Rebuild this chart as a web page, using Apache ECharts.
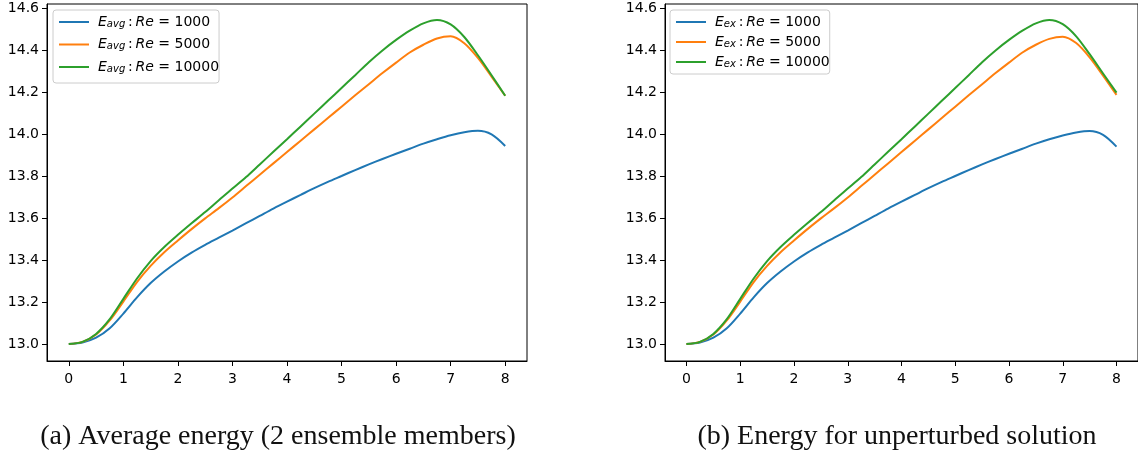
<!DOCTYPE html>
<html>
<head>
<meta charset="utf-8">
<script src="https://cdn.jsdelivr.net/npm/echarts@6/dist/echarts.min.js"></script>
<style>html,body{margin:0;padding:0;background:#fff;}#c{width:1138px;height:458px;}</style>
</head>
<body>
<div id="c"></div>
<script>
// ---- data ----
const tValues = [0,0.25,0.5,0.75,1,1.25,1.5,1.75,2,2.25,2.5,2.75,3,3.25,3.5,3.75,4,4.25,4.5,4.75,5,5.25,5.5,5.75,6,6.25,6.5,6.75,7,7.25,7.5,7.75,8];
const reLabels = ['1000','5000','10000'];
const xTicks = [0,1,2,3,4,5,6,7,8];
const yTicks = [13.0,13.2,13.4,13.6,13.8,14.0,14.2,14.4,14.6];

// (a) average energy
const avgRe1000  = [13.000,13.007,13.030,13.075,13.145,13.222,13.290,13.345,13.393,13.435,13.472,13.506,13.540,13.575,13.610,13.645,13.678,13.710,13.742,13.772,13.800,13.828,13.855,13.881,13.906,13.930,13.954,13.975,13.994,14.008,14.015,13.998,13.943];
const avgRe5000  = [13.000,13.010,13.045,13.112,13.202,13.295,13.372,13.437,13.493,13.547,13.598,13.647,13.698,13.752,13.806,13.860,13.914,13.968,14.022,14.076,14.130,14.184,14.237,14.290,14.340,14.388,14.425,14.455,14.465,14.432,14.362,14.273,14.182];
const avgRe10000 = [13.000,13.010,13.048,13.118,13.215,13.312,13.395,13.462,13.520,13.575,13.628,13.685,13.740,13.795,13.855,13.915,13.975,14.036,14.097,14.158,14.219,14.280,14.342,14.398,14.448,14.492,14.527,14.543,14.522,14.462,14.375,14.280,14.182];

// (b) unperturbed solution
const exRe1000  = [13.000,13.007,13.030,13.075,13.145,13.222,13.290,13.345,13.393,13.435,13.472,13.506,13.540,13.575,13.610,13.645,13.678,13.710,13.742,13.772,13.800,13.828,13.855,13.881,13.906,13.930,13.954,13.975,13.993,14.007,14.014,13.996,13.940];
const exRe5000  = [13.000,13.010,13.045,13.112,13.202,13.295,13.372,13.437,13.493,13.547,13.598,13.647,13.698,13.752,13.806,13.860,13.914,13.968,14.022,14.076,14.130,14.184,14.237,14.290,14.340,14.388,14.425,14.453,14.463,14.433,14.365,14.278,14.186];
const exRe10000 = [13.000,13.010,13.048,13.118,13.215,13.312,13.395,13.462,13.520,13.575,13.628,13.685,13.740,13.795,13.855,13.915,13.975,14.036,14.097,14.158,14.219,14.280,14.342,14.398,14.448,14.492,14.527,14.543,14.523,14.465,14.380,14.288,14.197];

const captionA = '(a) Average energy (2 ensemble members)';
const captionB = '(b) Energy for unperturbed solution';

// ---- chart ----
const colors = ['#1f77b4','#ff7f0e','#2ca02c'];
const pairs = vals => tValues.map((t,i)=>[t, vals[i]]);

const chart = echarts.init(document.getElementById('c'), null, {renderer:'canvas'});

const tickFont = {fontFamily:'DejaVu Sans', fontSize:14, color:'#000'};

function xAxisFor(gi){
  return {
    type:'value', gridIndex:gi, min:-0.4, max:8.4,
    axisLine:{show:true, onZero:false, lineStyle:{color:'#000', width:1}},
    axisTick:{show:true, inside:false, length:5, lineStyle:{color:'#000'}, customValues:xTicks},
    axisLabel:Object.assign({margin:11, customValues:xTicks, formatter:v=>String(v)}, tickFont),
    splitLine:{show:false}
  };
}
function yAxisFor(gi){
  return {
    type:'value', gridIndex:gi, min:12.919, max:14.619,
    axisLine:{show:true, onZero:false, lineStyle:{color:'#000', width:1}},
    axisTick:{show:true, inside:false, length:5, lineStyle:{color:'#000'}, customValues:yTicks},
    axisLabel:Object.assign({margin:8, customValues:yTicks, formatter:v=>v.toFixed(1)}, tickFont),
    splitLine:{show:false}
  };
}

function legendName(sub, re){ return 'E_' + sub + ' : Re = ' + re; }
const richStyles = {
  e:{fontFamily:'DejaVu Sans', fontStyle:'italic', fontSize:14, lineHeight:14, color:'#000'},
  s:{fontFamily:'DejaVu Sans', fontStyle:'italic', fontSize:10, lineHeight:7, verticalAlign:'bottom', color:'#000'},
  c:{fontFamily:'DejaVu Sans', fontSize:14, lineHeight:14, color:'#000'}
};
function legendFormatter(name){
  const m = name.match(/^E_(\w+) : Re = (\d+)$/);
  return '{e|E}{s|' + m[1] + '}{c|\u2009:\u2009}{e|Re}{c| = ' + m[2] + '}';
}
function legendFor(left, sub, gap, pad){
  return {
    orient:'vertical', left:left, top:10,
    data: reLabels.map(r=>legendName(sub,r)),
    itemWidth:30, itemHeight:14, itemGap:gap,
    padding:pad,
    itemStyle:{opacity:0, borderWidth:0},
    backgroundColor:'rgba(255,255,255,0.8)', borderColor:'#cccccc', borderWidth:1, borderRadius:3,
    formatter:legendFormatter,
    textStyle:{rich:richStyles, padding:[0,0,0,4]}
  };
}

function lineSeries(name, vals, ci, gi){
  return {
    type:'line', name:name, xAxisIndex:gi, yAxisIndex:gi,
    data:pairs(vals), symbol:'none', smooth:0.3,
    lineStyle:{color:colors[ci], width:2}, itemStyle:{color:colors[ci]},
    z: 2+ci
  };
}

const option = {
  animation:false,
  backgroundColor:'#fff',
  grid:[
    {left:47, top:4, width:480, height:357, show:true, borderColor:'#000', borderWidth:1, backgroundColor:'transparent'},
    {left:665, top:4, width:480, height:357, show:true, borderColor:'#000', borderWidth:1, backgroundColor:'transparent'}
  ],
  xAxis:[xAxisFor(0), xAxisFor(1)],
  yAxis:[yAxisFor(0), yAxisFor(1)],
  legend:[legendFor(53,'avg',8.5,[5,0,9,5]), legendFor(670,'ex',6,[5,0,5,5])],
  series:[
    lineSeries(legendName('avg',reLabels[0]), avgRe1000, 0, 0),
    lineSeries(legendName('avg',reLabels[1]), avgRe5000, 1, 0),
    lineSeries(legendName('avg',reLabels[2]), avgRe10000, 2, 0),
    lineSeries(legendName('ex',reLabels[0]), exRe1000, 0, 1),
    lineSeries(legendName('ex',reLabels[1]), exRe5000, 1, 1),
    lineSeries(legendName('ex',reLabels[2]), exRe10000, 2, 1)
  ],
  graphic:[
    {type:'text', x:278, y:437, style:{text:captionA, font:'28px "Liberation Serif"', fill:'#111', align:'center', verticalAlign:'middle'}},
    {type:'text', x:897, y:437, style:{text:captionB, font:'28px "Liberation Serif"', fill:'#111', align:'center', verticalAlign:'middle'}}
  ]
};
chart.setOption(option);
</script>
</body>
</html>
